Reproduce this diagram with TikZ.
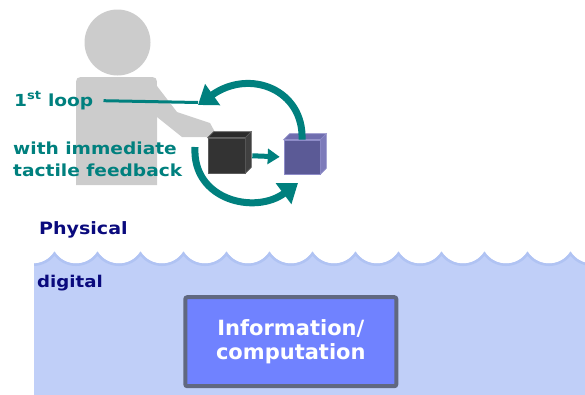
\documentclass[tikz,border=0pt]{standalone}
\usepackage{fontspec}
\usetikzlibrary{arrows.meta,positioning}
\newfontfamily\verdfont{DejaVu Sans}[FakeStretch=1.12]
\newfontfamily\boxfont{DejaVu Sans}
\definecolor{loopteal}{RGB}{0,128,126}
\definecolor{skyink}{RGB}{10,10,125}
\definecolor{persongray}{RGB}{204,204,204}
\definecolor{water}{RGB}{192,207,248}
\definecolor{waveband}{RGB}{176,195,243}
\definecolor{infofill}{RGB}{112,130,255}
\definecolor{infoframe}{RGB}{96,104,128}
\definecolor{blackfront}{HTML}{333333}
\definecolor{blacktop}{HTML}{2B2B2B}
\definecolor{blackside}{HTML}{404040}
\definecolor{blackedge}{HTML}{5C5C5C}
\definecolor{violetfront}{HTML}{5B5A96}
\definecolor{violettop}{HTML}{6F6DAE}
\definecolor{violetside}{HTML}{7D7BBA}
\definecolor{violetedge}{HTML}{8E8CC8}
% one row of scallops along the water line
\newcommand\waveline{(11.5,251.5) \foreach \k in {0,...,13}{ .. controls +(9.9,16) and +(-9.9,16) .. ++(43,0)}}

\begin{document}
\begin{tikzpicture}[x=1pt,y=-1pt,
    txt/.style={inner sep=0pt,anchor=base west},
    cubeface/.style={inner sep=0pt,line width=0.6pt},
    loopArrow/.style={draw=loopteal,line width=7pt,-{Triangle[length=18pt,width=25pt]}},
    pushArrow/.style={draw=loopteal,line width=5pt,-{Triangle[length=12pt,width=15pt]}},
    loopLine/.style={draw=loopteal,line width=3pt},
    infobox/.style={draw=infoframe,fill=infofill,line width=4pt,rounded corners=2pt,
        minimum width=211pt,minimum height=89pt,inner sep=0pt,align=center,text=white,
        font=\boxfont\bfseries\fontsize{21}{23.3}\selectfont}]
  \useasboundingbox (0,0) rectangle (585,394);

  % digital side
  \begin{scope}
    \clip (34,0) rectangle (585,394);
    \fill[water] \waveline -- (620,400) -- (0,400) -- cycle;
    \begin{scope}
      \clip \waveline -- (620,400) -- (0,400) -- cycle;
      \draw[waveband,line width=5pt] \waveline;
    \end{scope}
  \end{scope}

  % the person
  \fill[persongray] (117.5,42.5) circle[radius=33];
  \fill[persongray] (76,185) -- (76,87) .. controls (76,77) .. (86,77) -- (147,77)
      .. controls (157,77) .. (157,87) -- (157,185) -- cycle;
  \fill[persongray] (150,77) -- (177,112) -- (210,123) -- (216,134) -- (213,137)
      -- (182,137) -- (157,117) -- cycle;

  % the two cubes
  \node[cubeface,fill=blackfront,draw=blackedge,minimum width=37pt,minimum height=35pt]
      (cubeA) at (226.5,155.5) {};
  \node[cubeface,fill=violetfront,draw=violetedge,minimum width=36pt,minimum height=34pt]
      (cubeB) at (302,157) {};
  \foreach \c/\tp/\sd/\ed in {cubeA/blacktop/blackside/blackedge,cubeB/violettop/violetside/violetedge}{
    \filldraw[cubeface,fill=\tp,draw=\ed] (\c.north west) -- ++(6,-6)
        -- ([shift={(6,-6)}]\c.north east) -- (\c.north east) -- cycle;
    \filldraw[cubeface,fill=\sd,draw=\ed] (\c.north east) -- ++(6,-6)
        -- ([shift={(6,-6)}]\c.south east) -- (\c.south east) -- cycle;
  }

  % the loop
  \coordinate (tipA) at (198,105);
  \coordinate (tailB) at (195,147);
  \coordinate (tipB) at (298,183);
  \draw[pushArrow,shorten <=7pt,shorten >=4pt] (cubeA.east) -- (cubeB.west);
  \draw[loopArrow] (cubeB.north) .. controls (304,90) and (250,68) .. (tipA);
  \draw[loopArrow] (tailB) .. controls (192,200) and (255,215) .. (tipB);

  % labels
  \node[txt,text=loopteal,font=\verdfont\bfseries\fontsize{16.6}{20}\selectfont]
      (loop) at (14,106) {1\textsuperscript{st} loop};
  \node[txt,text=loopteal,align=left,font=\verdfont\bfseries\fontsize{16.6}{22.7}\selectfont]
      (tactile) at (13,176.7) {with immediate\\tactile feedback};
  \draw[loopLine,shorten <=10pt] (loop.east) -- ([yshift=2.5pt]tipA);

  \node[txt,text=skyink,font=\verdfont\bfseries\fontsize{17}{20}\selectfont]
      (phys) at (39,234.3) {Physical};
  \node[txt,text=skyink,font=\verdfont\bfseries\fontsize{16.2}{20}\selectfont]
      (dig) at (37,287.3) {digital};

  \node[infobox] (info) at (290.8,341.7) {Information/\\computation};
\end{tikzpicture}
\end{document}
